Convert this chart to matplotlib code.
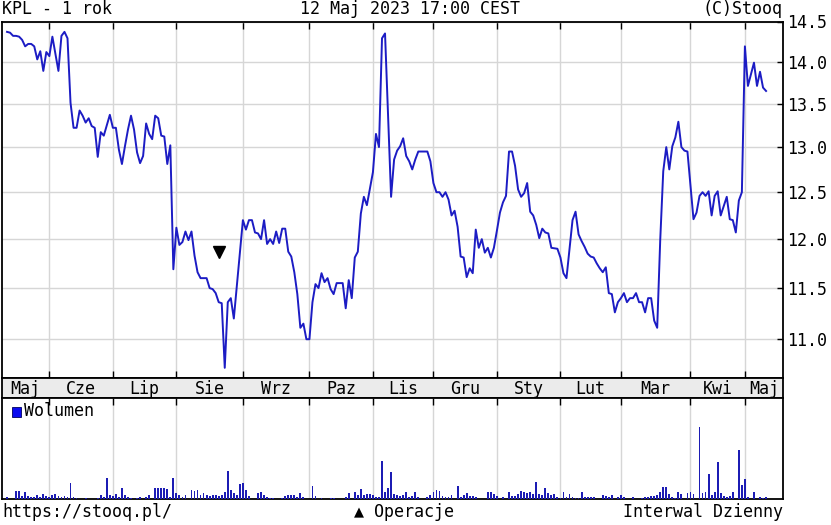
import matplotlib
matplotlib.use('Agg')
import matplotlib.pyplot as plt
from matplotlib.ticker import FixedLocator, NullLocator, FixedFormatter
from matplotlib.patches import Rectangle

# ---------------- data (trading-day index 0 = 12 May 2022) ----------------
month_names = ['Maj', 'Cze', 'Lip', 'Sie', 'Wrz', 'Paz', 'Lis', 'Gru',
               'Sty', 'Lut', 'Mar', 'Kwi', 'Maj']
month_start_idx = [14, 35, 56, 78, 100, 121, 141, 162, 183, 203, 226, 244]

price_idx = [0, 1, 2, 3, 4, 5, 6, 7, 8, 9, 10, 11, 12, 13, 14, 15, 16, 17, 18, 19,
             20, 21, 22, 23, 24, 25, 26, 27, 28, 29, 30, 31, 32, 33, 34, 35, 36, 37, 38, 39,
             40, 41, 42, 43, 44, 45, 46, 47, 48, 49, 50, 51, 52, 53, 54, 55, 56, 57, 58, 59,
             60, 61, 62, 63, 64, 65, 66, 67, 68, 69, 70, 71, 72, 73, 74, 75, 78, 79,
             80, 81, 82, 83, 84, 85, 86, 87, 88, 89, 90, 91, 92, 93, 94, 95, 96, 97, 98, 99,
             100, 101, 102, 103, 104, 105, 106, 107, 108, 109, 111, 112, 113, 114, 115, 116, 117, 118, 119,
             121, 122, 123, 124, 125, 126, 127, 128, 129, 130, 131, 132, 133, 134, 135, 136, 139,
             140, 141, 142, 143, 144, 145, 146, 147, 148, 149, 150, 151, 152, 153, 154, 155, 156, 157, 158, 159,
             160, 161, 162, 163, 164, 165, 166, 167, 168, 169, 170, 171, 172, 173, 174, 175, 176, 177, 178, 179,
             180, 182, 183, 184, 185, 186, 187, 188, 189, 190, 191, 192, 193, 194, 195, 196, 197, 198, 199,
             200, 201, 202, 203, 204, 205, 206, 207, 208, 209, 210, 211, 212, 213, 214, 215, 216, 217, 218, 219,
             220, 221, 222, 223, 224, 225, 227, 228, 229, 230, 231, 232, 233, 234, 235, 236, 238, 239,
             240, 241, 242, 243, 244, 245, 247, 248, 249, 250, 251]
price_val = [14.37, 14.36, 14.32, 14.32, 14.31, 14.27, 14.19, 14.22, 14.22, 14.19, 14.03, 14.13, 13.89, 14.12, 14.07, 14.31, 14.10, 13.89, 14.32, 14.37,
             14.29, 13.51, 13.22, 13.22, 13.42, 13.36, 13.28, 13.33, 13.24, 13.22, 12.89, 13.17, 13.13, 13.25, 13.37, 13.22, 13.22, 12.97, 12.81, 13.01,
             13.20, 13.36, 13.20, 12.94, 12.82, 12.90, 13.27, 13.15, 13.09, 13.36, 13.33, 13.13, 13.12, 12.81, 13.02, 11.69, 12.12, 11.94, 11.97, 12.08,
             11.99, 12.08, 11.83, 11.66, 11.60, 11.60, 11.60, 11.50, 11.49, 11.45, 11.36, 11.35, 10.73, 11.36, 11.40, 11.20, 12.20, 12.10,
             12.20, 12.20, 12.07, 12.06, 12.00, 12.20, 11.95, 12.00, 11.95, 12.08, 11.96, 12.11, 12.11, 11.87, 11.82, 11.66, 11.44, 11.11, 11.15, 11.00,
             11.00, 11.36, 11.54, 11.50, 11.65, 11.56, 11.60, 11.49, 11.44, 11.55, 11.55, 11.30, 11.58, 11.40, 11.81, 11.87, 12.27, 12.45, 12.36,
             12.72, 13.15, 13.00, 14.29, 14.35, 13.36, 12.45, 12.86, 12.96, 13.01, 13.10, 12.90, 12.84, 12.75, 12.86, 12.95, 12.95,
             12.84, 12.60, 12.50, 12.50, 12.45, 12.50, 12.42, 12.25, 12.30, 12.13, 11.82, 11.81, 11.61, 11.70, 11.65, 12.10, 11.91, 12.00, 11.86, 11.91,
             11.81, 11.91, 12.09, 12.28, 12.39, 12.46, 12.95, 12.95, 12.79, 12.53, 12.45, 12.49, 12.60, 12.29, 12.25, 12.15, 12.01, 12.11, 12.07, 12.06,
             11.91, 11.90, 11.81, 11.65, 11.60, 11.90, 12.20, 12.29, 12.05, 11.98, 11.92, 11.85, 11.82, 11.81, 11.75, 11.70, 11.66, 11.71, 11.45,
             11.44, 11.26, 11.36, 11.40, 11.45, 11.36, 11.40, 11.40, 11.45, 11.36, 11.36, 11.26, 11.40, 11.40, 11.18, 11.11, 11.99, 12.73, 13.00, 12.75,
             13.01, 13.11, 13.29, 13.00, 12.96, 12.95, 12.21, 12.28, 12.46, 12.50, 12.46, 12.51, 12.25, 12.46, 12.51, 12.25, 12.45, 12.21,
             12.20, 12.07, 12.41, 12.50, 14.19, 13.71, 13.99, 13.71, 13.88, 13.69, 13.65]

volume = [2, 0, 0, 8, 8, 3, 7, 3, 2, 2, 4, 2, 5, 3, 2, 4, 5, 3, 2, 3,
          2, 16, 2, 1, 0, 0, 1, 0, 0, 0, 1, 4, 2, 21, 4, 3, 5, 2, 11, 4,
          2, 1, 0, 1, 2, 0, 2, 4, 0, 11, 11, 11, 11, 10, 2, 21, 6, 4, 2, 4,
          0, 9, 8, 9, 4, 6, 4, 3, 4, 4, 3, 4, 7, 28, 9, 6, 4, 15, 16, 9,
          3, 0, 0, 6, 7, 4, 2, 1, 1, 0, 0, 1, 3, 4, 4, 4, 2, 6, 2, 0,
          0, 13, 3, 0, 1, 0, 0, 1, 1, 0, 0, 0, 2, 6, 0, 7, 4, 10, 4, 5,
          5, 4, 2, 2, 38, 7, 11, 27, 5, 4, 3, 4, 7, 2, 3, 7, 2, 0, 0, 2,
          4, 7, 9, 8, 3, 2, 2, 4, 0, 13, 2, 4, 6, 3, 3, 2, 0, 0, 0, 7,
          7, 5, 3, 0, 2, 0, 7, 3, 3, 5, 8, 7, 6, 7, 5, 17, 5, 4, 11, 6,
          4, 5, 2, 1, 7, 2, 5, 2, 1, 1, 7, 2, 2, 2, 2, 0, 0, 4, 3, 2,
          4, 0, 2, 4, 2, 0, 0, 2, 0, 0, 1, 2, 2, 3, 3, 4, 7, 12, 12, 5,
          2, 1, 7, 5, 0, 6, 7, 5, 0, 72, 6, 7, 25, 4, 7, 37, 6, 3, 2, 3,
          7, 0, 49, 14, 20, 2, 0, 7, 0, 2, 1, 2]

op_idx = [70]
op_price = [11.87]

y_ticks = [11.0, 11.5, 12.0, 12.5, 13.0, 13.5, 14.0, 14.5]

title_left = 'KPL - 1 rok'
title_mid = '12 Maj 2023 17:00 CEST'
title_right = '(C)Stooq'
foot_left = 'https://stooq.pl/'
foot_mid = '\u25b2 Operacje'
foot_right = 'Interwal Dzienny'
vol_label = 'Wolumen'

# ---------------- styling ----------------
plt.rcParams['font.family'] = ['DejaVu Sans Mono', 'DejaVu Sans']
FS = 12
LINE = '#1c1cc4'
VOLC = '#1c1cb4'
GRID = '#d6d6d6'
BAND = '#ebebeb'

W, H = 831, 525
fig = plt.figure(figsize=(W / 100, H / 100), dpi=100)
fig.patch.set_facecolor('white')


def rect(l, t, r, b):
    return [l / W, 1 - b / H, (r - l) / W, (b - t) / H]


XL = (-1.66, 256.6)

ax = fig.add_axes(rect(2, 21.5, 783, 377.5))
band = fig.add_axes(rect(2, 377.5, 783, 398))
axv = fig.add_axes(rect(2, 398, 783, 499))

# ---- price panel ----
ax.plot(price_idx, price_val, color=LINE, lw=1.4, zorder=3)
ax.plot(op_idx, op_price, ls='none', marker='v', color='black', ms=8, zorder=4)
ax.set_yscale('log')
ax.set_ylim(10.64, 14.5)
ax.set_xlim(*XL)
ax.yaxis.set_major_locator(FixedLocator(y_ticks))
ax.yaxis.set_minor_locator(NullLocator())
ax.yaxis.set_major_formatter(FixedFormatter([f'{v:.1f}' for v in y_ticks]))
ax.yaxis.tick_right()
ax.tick_params(axis='y', which='major', direction='in', length=4, width=1,
               labelsize=FS, pad=3, colors='black')
ax.xaxis.set_major_locator(FixedLocator(month_start_idx))
ax.xaxis.set_minor_locator(NullLocator())
ax.tick_params(axis='x', which='major', direction='in', length=5, width=1,
               top=True, bottom=True, labelbottom=False)
ax.grid(True, color=GRID, lw=1.0, zorder=0)
ax.set_axisbelow(True)
for s in ax.spines.values():
    s.set_linewidth(1.3)

# ---- month band ----
band.set_facecolor(BAND)
band.set_xlim(*XL)
band.set_ylim(0, 1)
band.set_xticks([])
band.set_yticks([])
for s in band.spines.values():
    s.set_linewidth(1.3)
edges = [XL[0]] + month_start_idx + [XL[1]]
for name, a, b in zip(month_names, edges[:-1], edges[1:]):
    band.text((a + b) / 2, 0.45, name, ha='center', va='center', fontsize=FS)

# ---- volume panel ----
axv.bar(list(range(len(volume))), volume, width=0.6, color=VOLC, zorder=3)
axv.set_xlim(*XL)
axv.set_ylim(0, 101)
axv.set_yticks([])
axv.xaxis.set_major_locator(FixedLocator(month_start_idx))
axv.tick_params(axis='x', which='major', direction='in', length=5, width=1,
                top=True, bottom=False, labelbottom=False)
axv.grid(True, axis='x', color=GRID, lw=1.0, zorder=0)
axv.set_axisbelow(True)
for s in axv.spines.values():
    s.set_linewidth(1.3)

# legend square + label
fig.patches.append(Rectangle((11.5 / W, 1 - 416.5 / H), 9 / W, 10 / H,
                             transform=fig.transFigure, facecolor='#0a0af0',
                             edgecolor='#000060', lw=0.6))
fig.text(24 / W, 1 - 411.5 / H, vol_label, ha='left', va='center', fontsize=FS)

# ---- header / footer ----
fig.text(2 / W, 1 - 9.5 / H, title_left, ha='left', va='center', fontsize=FS)
fig.text(410 / W, 1 - 9.5 / H, title_mid, ha='center', va='center', fontsize=FS)
fig.text(783 / W, 1 - 9.5 / H, title_right, ha='right', va='center', fontsize=FS)
fig.text(2 / W, 1 - 512 / H, foot_left, ha='left', va='center', fontsize=FS)
fig.text(404 / W, 1 - 512 / H, foot_mid, ha='center', va='center', fontsize=FS)
fig.text(783 / W, 1 - 512 / H, foot_right, ha='right', va='center', fontsize=FS)

fig.savefig('out.png', dpi=100, facecolor='white')
